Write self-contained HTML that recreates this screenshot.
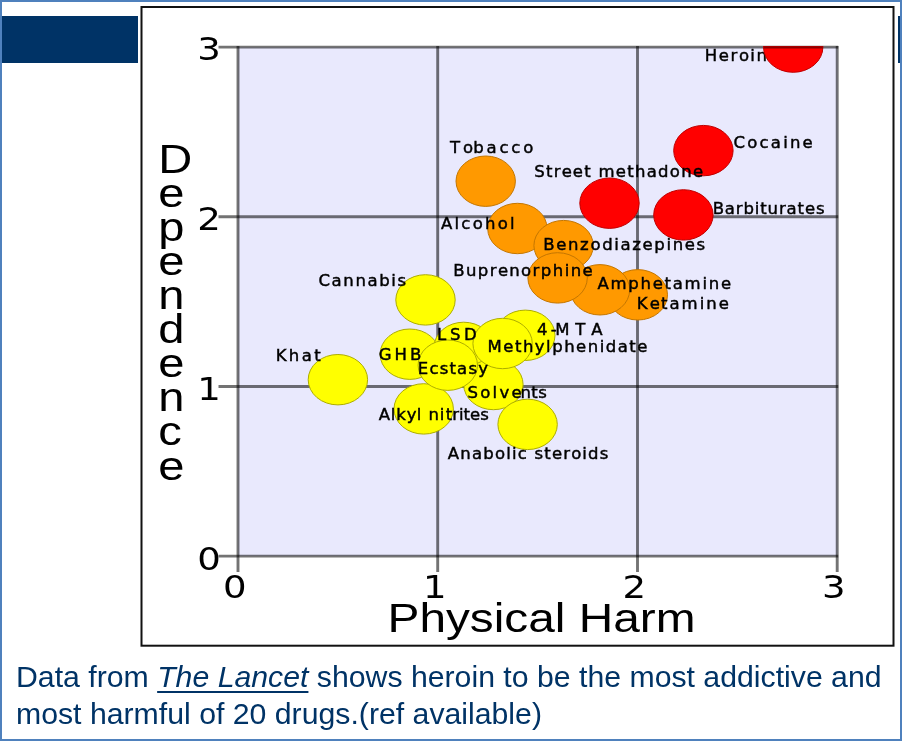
<!DOCTYPE html>
<html lang="en">
<head>
<meta charset="utf-8">
<title>Dependence vs Physical Harm</title>
<style>
html,body{margin:0;padding:0;background:#fff;}
body{width:902px;height:741px;position:relative;overflow:hidden;font-family:"Liberation Sans",sans-serif;}
#frame{position:absolute;left:0;top:0;width:898px;height:737px;border-style:solid;border-color:#4f81bd;border-width:2px 2px 2px 2px;}
#barL{position:absolute;left:2px;top:15.5px;width:136px;height:47.5px;background:#003366;}
#barR{position:absolute;left:897.5px;top:16px;width:2.5px;height:47px;background:#003366;}
#chart{position:absolute;left:0;top:0;width:902px;height:741px;}
#cap{position:absolute;left:15.6px;top:657.7px;width:850px;color:#003366;font-size:29.3px;line-height:37px;white-space:nowrap;transform:scaleX(1.032);transform-origin:0 0;}
#cap i{text-decoration:underline;text-decoration-thickness:2px;text-underline-offset:4px;}
svg text{font-family:"DejaVu Sans","Liberation Sans",sans-serif;fill:#000;}
svg .lib, svg .lib text{font-family:"Liberation Sans",sans-serif;}
</style>
</head>
<body>
<div id="frame"></div>
<div id="barL"></div>
<div id="barR"></div>
<svg id="chart" width="902" height="741" viewBox="0 0 902 741">
<defs><clipPath id="plotclip"><rect x="237" y="46" width="601" height="511"/></clipPath><filter id="soft" x="0" y="0" width="902" height="741" filterUnits="userSpaceOnUse"><feGaussianBlur stdDeviation="0.55"/></filter></defs>
<rect x="141.5" y="7" width="752" height="638.7" fill="#fff" stroke="#111" stroke-width="2"/>
<g filter="url(#soft)">
<rect x="238.0" y="47.1" width="599.2" height="509.0" fill="#e9e9fd"/>
<g stroke="#000" stroke-opacity="0.55" stroke-width="2.9" fill="none">
<line x1="238.0" y1="46.1" x2="238.0" y2="572.1"/>
<line x1="437.7" y1="46.1" x2="437.7" y2="572.1"/>
<line x1="637.5" y1="46.1" x2="637.5" y2="572.1"/>
<line x1="837.2" y1="46.1" x2="837.2" y2="572.1"/>
<line x1="218.5" y1="556.1" x2="838.2" y2="556.1"/>
<line x1="218.5" y1="386.5" x2="838.2" y2="386.5"/>
<line x1="218.5" y1="216.8" x2="838.2" y2="216.8"/>
<line x1="218.5" y1="47.1" x2="838.2" y2="47.1"/>
</g>
<g font-size="16.5" stroke="#000" stroke-width="0.45"><text transform="scale(1.000,1)" y="60.50" x="704.85 718.86 730.62 739.01 750.35 756.54">Heroin</text>
</g>
<g clip-path="url(#plotclip)" stroke-width="1">
<ellipse cx="337.9" cy="379.7" rx="29.7" ry="25.2" fill="#ffff00" stroke="#adad00"/>
<ellipse cx="425.5" cy="299.9" rx="29.7" ry="25.2" fill="#ffff00" stroke="#adad00"/>
<ellipse cx="409.8" cy="354.2" rx="29.7" ry="25.2" fill="#ffff00" stroke="#adad00"/>
<ellipse cx="423.7" cy="408.9" rx="29.7" ry="25.2" fill="#ffff00" stroke="#adad00"/>
<ellipse cx="463.7" cy="347.4" rx="29.7" ry="25.2" fill="#ffff00" stroke="#adad00"/>
<ellipse cx="493.4" cy="384.5" rx="29.7" ry="25.2" fill="#ffff00" stroke="#adad00"/>
<ellipse cx="527.6" cy="424.4" rx="29.7" ry="25.2" fill="#ffff00" stroke="#adad00"/>
<ellipse cx="447.8" cy="365.2" rx="29.7" ry="25.2" fill="#ffff00" stroke="#adad00"/>
<ellipse cx="525.3" cy="335.3" rx="29.7" ry="25.2" fill="#ffff00" stroke="#adad00"/>
<ellipse cx="502.6" cy="343.5" rx="29.7" ry="25.2" fill="#ffff00" stroke="#adad00"/>
<ellipse cx="485.7" cy="181.2" rx="29.7" ry="25.2" fill="#ff9900" stroke="#c47600"/>
<ellipse cx="517.4" cy="228.5" rx="29.7" ry="25.2" fill="#ff9900" stroke="#c47600"/>
<ellipse cx="563.6" cy="245.6" rx="29.7" ry="25.2" fill="#ff9900" stroke="#c47600"/>
<ellipse cx="637.8" cy="294.8" rx="29.7" ry="25.2" fill="#ff9900" stroke="#c47600"/>
<ellipse cx="600.0" cy="289.8" rx="29.7" ry="25.2" fill="#ff9900" stroke="#c47600"/>
<ellipse cx="557.6" cy="277.9" rx="29.7" ry="25.2" fill="#ff9900" stroke="#c47600"/>
<ellipse cx="609.5" cy="203.2" rx="29.7" ry="25.2" fill="#ff0000" stroke="#c00000"/>
<ellipse cx="683.4" cy="214.9" rx="29.7" ry="25.2" fill="#ff0000" stroke="#c00000"/>
<ellipse cx="703.4" cy="150.6" rx="29.7" ry="25.2" fill="#ff0000" stroke="#c00000"/>
<ellipse cx="793.2" cy="47.1" rx="29.7" ry="25.2" fill="#ff0000" stroke="#c00000"/>
</g>
<line x1="763.8" y1="47.3" x2="822.8" y2="47.3" stroke="#8c0000" stroke-width="2.2"/>
<g font-size="16.5" stroke="#000" stroke-width="0.45">
<text transform="scale(1.000,1)" y="148.40" x="733.59 747.30 759.58 770.84 783.14 789.91 802.55">Cocaine</text>
<text transform="scale(1.000,1)" y="153.40" x="450.08 463.01 473.14 486.46 499.41 511.33 523.24">Tobacco</text>
<text transform="scale(1.000,1)" y="177.10" x="534.23 545.97 553.71 561.77 572.83 584.25 591.99 598.51 615.85 627.27 635.01 646.74 658.12 669.87 681.23 692.96">Street methadone</text>
<text transform="scale(1.000,1)" y="213.70" x="712.65 724.84 735.82 743.48 754.82 760.27 767.62 778.94 786.60 797.58 804.92 815.94">Barbiturates</text>
<text transform="scale(1.000,1)" y="229.40" x="440.94 454.47 461.31 472.63 484.98 497.69 510.03">Alcohol</text>
<text transform="scale(1.000,1)" y="250.10" x="543.25 556.21 568.00 580.10 590.40 602.13 614.24 620.46 632.22 642.52 654.31 666.42 672.64 684.74 696.53">Benzodiazepines</text>
<text transform="scale(1.000,1)" y="275.60" x="453.15 465.91 477.81 489.72 497.95 509.18 521.08 532.61 540.84 552.75 564.65 570.68 582.58">Buprenorphine</text>
<text transform="scale(1.000,1)" y="286.00" x="318.49 331.62 343.33 355.39 367.45 379.17 391.24 397.43">Cannabis</text>
<text transform="scale(1.000,1)" y="289.00" x="597.44 610.46 628.26 640.47 652.67 664.55 672.76 684.60 702.41 708.73 720.92">Amphetamine</text>
<text transform="scale(1.000,1)" y="309.40" x="636.85 649.67 661.00 669.47 681.58 699.65 706.23 718.69">Ketamine</text>
<text transform="scale(1.000,1)" y="334.80" x="536.88 550.71 555.35 575.33 591.16">4-MTA</text>
<text transform="scale(1.000,1)" y="340.00" x="437.05 449.89 464.02">LSD</text>
<text transform="scale(1.000,1)" y="352.20" x="487.55 503.28 514.93 522.90 534.85 546.11 552.19 564.16 576.11 587.76 599.72 605.80 617.77 629.37 637.34">Methylphenidate</text>
<text transform="scale(1.000,1)" y="360.50" x="275.65 288.87 301.73 314.23">Khat</text>
<text transform="scale(1.000,1)" y="359.50" x="378.79 394.58 409.98">GHB</text>
<text transform="scale(1.000,1)" y="373.80" x="417.75 429.38 439.65 449.45 457.12 468.44 478.24">Ecstasy</text>
<text transform="scale(1.000,1)" y="397.60" x="467.53 480.23 492.56 499.38 511.38 520.51 531.33 538.16">Solvents</text>
<text transform="scale(1.000,1)" y="419.80" x="378.63 390.81 396.29 406.74 416.81 422.29 428.42 439.78 445.79 452.25 459.03 463.61 470.07 480.22">Alkyl nitrites</text>
<text transform="scale(1.000,1)" y="459.10" x="447.83 460.32 471.98 483.29 494.96 506.25 512.03 517.81 528.08 534.53 544.32 551.99 563.34 571.32 582.25 588.03 599.71">Anabolic steroids</text>
</g>
<g font-size="32.5">
<text transform="translate(220.8,569.7) scale(1.141,1)" text-anchor="end">0</text>
<text transform="translate(220.8,400.1) scale(1.141,1)" text-anchor="end">1</text>
<text transform="translate(220.8,230.4) scale(1.141,1)" text-anchor="end">2</text>
<text transform="translate(220.8,59.8) scale(1.141,1)" text-anchor="end">3</text>
<text transform="translate(223.0,598.4) scale(1.141,1)">0</text>
<text transform="translate(423.0,598.4) scale(1.141,1)">1</text>
<text transform="translate(622.5,598.4) scale(1.141,1)">2</text>
<text transform="translate(822.0,598.4) scale(1.141,1)">3</text>
</g>
<text transform="translate(387.5,632.3) scale(1.183,1)" font-size="40.4" class="lib">Physical Harm</text>
<text class="lib" font-size="40" transform="scale(1.177,1)" x="134.49 134.49 134.49 134.49 134.49 134.49 134.49 134.49 134.49 134.49" y="172.90 206.97 241.04 275.11 309.18 343.25 377.32 411.39 445.46 479.53">Dependence</text>
</g>
</svg>
<div id="cap">Data from <i>The Lancet</i> shows heroin to be the most addictive and<br>most harmful of 20 drugs.(ref available)</div>
</body>
</html>
